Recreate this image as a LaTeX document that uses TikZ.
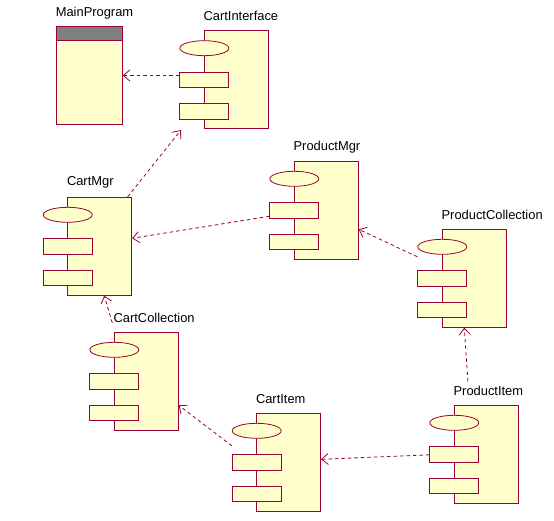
\documentclass[tikz,border=0pt]{standalone}
\usepackage{fontspec}
\setmainfont{Liberation Sans}
\usepackage{tikz}
\usetikzlibrary{shapes, positioning, arrows.meta}
\definecolor{umlline}{RGB}{153,0,51}
\definecolor{umlfill}{RGB}{255,255,204}
\definecolor{umlgray}{RGB}{128,128,128}

% one component: body, lollipop, two ports and its name
\newcommand{\component}[4]{%
\node[compbody]   (#1)   at (#2+32,#3+49)   {};
\node[complolly]  (#1-e) at (#2,#3+17.5)    {};
\node[compport]   (#1-a) at (#2,#3+49)      {};
\node[compport]   (#1-b) at (#2,#3+80.5)    {};
\node[complabel]  (#1-l) at (#2-1,#3-14.5)  {#4};
}

\begin{document}
\begin{tikzpicture}[x=1pt, y=-1pt, semithick]
\tikzstyle{compbody}=[draw=umlline, fill=umlfill, line width=0.8pt, inner sep=0pt, minimum width=64pt, minimum height=98pt]
\tikzstyle{complolly}=[draw=umlline, fill=umlfill, line width=0.8pt, ellipse, inner sep=0pt, minimum width=49pt, minimum height=15pt]
\tikzstyle{compport}=[draw=umlline, fill=umlfill, line width=0.8pt, rectangle, inner sep=0pt, minimum width=49pt, minimum height=15.5pt]
\tikzstyle{complabel}=[anchor=west, inner sep=0pt, font=\fontsize{12.9}{14}\selectfont]
\tikzstyle{depends}=[draw=umlline, line width=0.8pt, dash pattern=on 3.5pt off 3pt, -{Straight Barb[length=6.5pt, width=11pt]}]
\useasboundingbox (0,0) rectangle (554,521);

% main program
\node[compbody, minimum width=66pt, minimum height=97.6pt] (MP) at (89.3,75.5) {};
\node[compbody, fill=umlgray, minimum width=66pt, minimum height=14pt, anchor=north] (MP-h) at (MP.north) {};
\node[complabel] (MP-l) at (55.5,12.7) {MainProgram};

% components
\component{CI}{204.3}{30.7}{CartInterface}
\component{CM}{67.7}{197.3}{CartMgr}
\component{PM}{294.3}{161.3}{ProductMgr}
\component{PC}{442.3}{229.3}{ProductCollection}
\component{CC}{114.3}{332.3}{CartCollection}
\component{IT}{256.7}{413.3}{CartItem}
\component{PI}{454.3}{405.3}{ProductItem}

% dependencies
\path
(CI-a.west |- MP.east)                  edge[depends]  (MP.east)
([xshift=-4.5pt]CM.north east)          edge[depends]  ([xshift=-23pt,yshift=-1pt]CI.south west)
([yshift=-6pt]PM-a.west)                edge[depends]  ([yshift=8pt]CM.east)
([yshift=-10pt]PC-e.west)               edge[depends]  ([yshift=-19pt]PM.east)
([shift={(14pt,23.5pt)}]PI.north west)  edge[depends]  ([xshift=-10pt]PC.south)
([yshift=-0.5pt]PI-a.west)              edge[depends]  ([yshift=3pt]IT.east)
([yshift=-15pt]IT-e.west)               edge[depends]  ([yshift=-24pt]CC.east)
([shift={(-1.6pt,9pt)}]CC.north west)   edge[depends]  ([xshift=4.5pt]CM.south);
\end{tikzpicture}
\end{document}
